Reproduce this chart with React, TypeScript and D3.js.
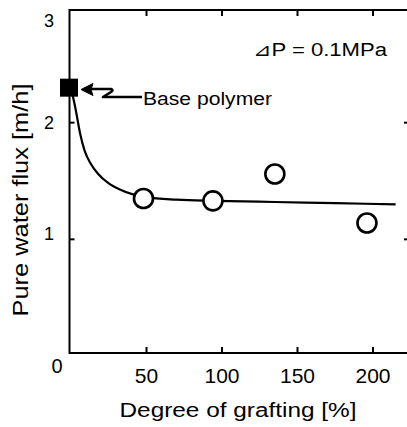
import React from 'react';
import * as d3 from 'd3';

// measured points (degree of grafting %, flux m/h)
const baseX = [0];
const baseY = [2.3];
const graftX = [48, 94, 135, 196];
const graftY = [1.35, 1.33, 1.56, 1.14];

// hand-drawn trend line
const curveX = [0, 3, 6, 9, 13, 18, 25, 32, 40, 50, 70, 95, 135, 175, 215];
const curveY = [2.3, 2.12, 1.91, 1.76, 1.65, 1.56, 1.48, 1.43, 1.39, 1.36, 1.34, 1.33, 1.32, 1.31, 1.3];

const xTicks = [50, 100, 150, 200];
const yTicks = [1, 2, 3];

const font = "'Liberation Sans', Arial, sans-serif";

const App = () => {
  const W = 407, H = 427;
  const left = 69.5, right = 409, top = 10, bottom = 353;

  const x = d3.scaleLinear().domain([0, 200]).range([71, 373]);
  const y = d3.scaleLinear().domain([0, 3]).range([356, 6]);

  const line = d3.line<number>()
    .x((_, i) => x(curveX[i]))
    .y(d => y(d))
    .curve(d3.curveMonotoneX);

  // label baselines sit a little off the ticks in the original
  const yLabelBase = (t: number) => (t === 3 ? 27 : y(t) + (t === 2 ? 6 : 1));

  return (
    <svg width={W} height={H} style={{ position: 'absolute', left: 0, top: 0, background: '#fff' }}>
      <g fill="none" stroke="#000" strokeWidth={2}>
        <rect x={left} y={top} width={right - left} height={bottom - top} />
        {xTicks.map(t => (
          <g key={t}>
            <line x1={x(t)} x2={x(t)} y1={bottom} y2={bottom - 6} />
            <line x1={x(t)} x2={x(t)} y1={top} y2={top + 6} />
          </g>
        ))}
        {yTicks.slice(0, 2).map(t => (
          <g key={t}>
            <line x1={left} x2={left + 5} y1={y(t)} y2={y(t)} />
            <line x1={right} x2={right - 5} y1={y(t)} y2={y(t)} />
          </g>
        ))}
      </g>

      <g fontFamily={font} fill="#000">
        {xTicks.map(t => (
          <text key={t} x={x(t)} y={383} textAnchor="middle" fontSize={21}>{t}</text>
        ))}
        <text x={57} y={373} textAnchor="middle" fontSize={20}>0</text>
        {yTicks.map(t => (
          <text key={t} x={49} y={yLabelBase(t)} textAnchor="middle" fontSize={18}>{t}</text>
        ))}
      </g>

      <path d={line(curveY) || ''} fill="none" stroke="#000" strokeWidth={2.2} />

      {graftX.map((d, i) => (
        <circle key={i} cx={x(d)} cy={y(graftY[i])} r={9.5} fill="#fff" stroke="#000" strokeWidth={2.6} />
      ))}
      {baseX.map((d, i) => (
        <rect key={i} x={x(d) - 11} y={y(baseY[i]) - 9} width={18} height={18} fill="#000" />
      ))}

      {/* annotation arrow */}
      <g fill="none" stroke="#000" strokeWidth={2.6} strokeLinejoin="round">
        <path d="M84,89 L111,89 Q114,90 111,92 L103,97 L142,97" />
      </g>
      <path d="M81,89.5 L93,83.5 L91,89.5 L93,95.5 Z" fill="#000" stroke="#000" strokeWidth={1} />
      <text x={143} y={105} fontFamily={font} fontSize={17.5} textLength={129} lengthAdjust="spacingAndGlyphs">
        Base polymer
      </text>
      <text x={253} y={56} fontFamily={font} fontSize={18} textLength={134} lengthAdjust="spacingAndGlyphs">
        <tspan fontFamily="'DejaVu Sans', 'Noto Sans CJK JP'">⊿</tspan>P = 0.1MPa
      </text>

      <text transform="translate(28,200) rotate(-90)" textAnchor="middle" fontFamily={font} fontSize={22}
        textLength={233} lengthAdjust="spacingAndGlyphs">
        Pure water flux [m/h]
      </text>
      <text x={238} y={417} textAnchor="middle" fontFamily={font} fontSize={20}
        textLength={237} lengthAdjust="spacingAndGlyphs">
        Degree of grafting [%]
      </text>
    </svg>
  );
};

export default App;
